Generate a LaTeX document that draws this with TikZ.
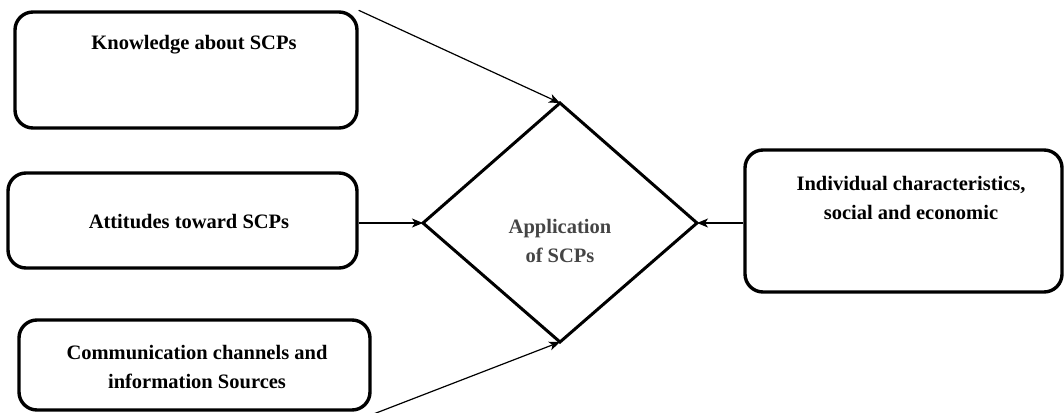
\documentclass[tikz,border=0pt]{standalone}
\usepackage{fontspec}
\setmainfont{Liberation Serif}
\usetikzlibrary{arrows.meta}
\definecolor{labelgray}{HTML}{454545}
\tikzset{
  factorbox/.style={draw=black, line width=3.4, rounded corners=18, inner sep=0, fill=none},
  boxtext/.style={font=\fontsize{20.5}{29}\selectfont\bfseries, align=center, inner sep=0},
  flow/.style={line width=1.2, -{Stealth[length=11, width=9, inset=3]}},
}
\begin{document}
\begin{tikzpicture}[x=1pt, y=-1pt]
  \useasboundingbox (0,0) rectangle (1064,412);

  % factor boxes
  \node[factorbox, minimum width=342, minimum height=116] (know) at (186,70) {};
  \node[factorbox, minimum width=349, minimum height=95] (att) at (182.5,220.5) {};
  \node[factorbox, minimum width=351, minimum height=90] (comm) at (194.5,365) {};
  \node[factorbox, minimum width=317, minimum height=142] (indiv) at (903.5,221) {};

  \node[boxtext] (knowt) at (194,45) {Knowledge about SCPs};
  \node[boxtext] (attt) at (189,222) {Attitudes toward SCPs};
  \node[boxtext] (commt) at (197,367) {Communication channels and\\information Sources};
  \node[boxtext] (indivt) at (911,198) {Individual characteristics,\\social and economic};

  % central decision diamond
  \coordinate (dl) at (423,223);
  \coordinate (dt) at (560,103);
  \coordinate (dr) at (697,223);
  \coordinate (db) at (560,342);
  \draw[line width=3, line join=miter] (dl) -- (dt) -- (dr) -- (db) -- cycle;
  \node[boxtext, text=labelgray] (appt) at (560,241) {Application\\of SCPs};

  % influences
  \draw[flow] (know.north east) -- (dt);
  \draw[flow] (att.east |- dl) -- (dl);
  \draw[flow] ([yshift=-3]comm.south east) -- (db);
  \draw[flow] (indiv.west |- dr) -- (dr);
\end{tikzpicture}
\end{document}
